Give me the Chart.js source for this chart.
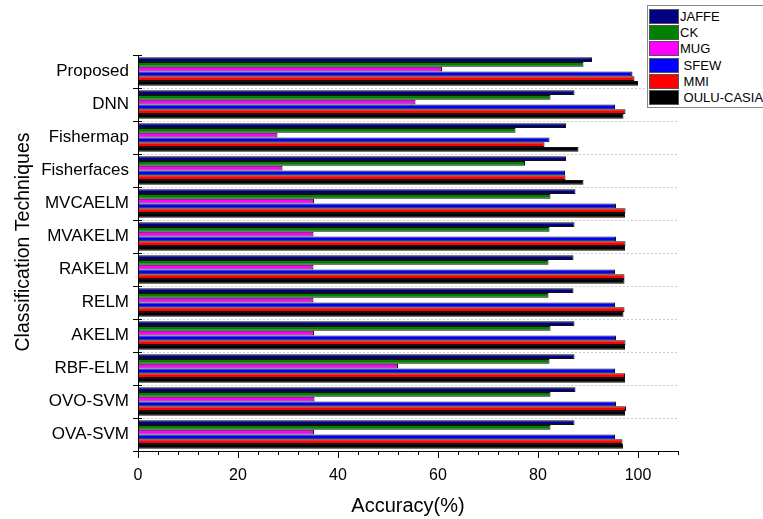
<!DOCTYPE html>
<html>
<head>
<meta charset="utf-8">
<script src="https://cdn.jsdelivr.net/npm/chart.js@4"></script>
<style>
  html, body { margin: 0; padding: 0; background: #fff; overflow: hidden; }
  #wrap { position: relative; width: 763px; height: 519px; overflow: hidden; }
  #legend {
    position: absolute; left: 647px; top: 5px; width: 130px; height: 103px;
    background: #fff; border: 1px solid #888; box-sizing: border-box;
    padding: 2px 0 0 1px; font: 13px Arial, "Liberation Sans", sans-serif; color: #000;
  }
  .row { display: flex; align-items: center; height: 16.3px; }
  .sw { width: 30px; height: 15px; box-sizing: border-box; border: 1px solid #555; margin-right: 1px; }
</style>
</head>
<body>
<div id="wrap">
  <canvas id="chart" width="763" height="519"></canvas>
  <div id="legend"></div>
</div>
<script>
// ---- data ----
const categories = ['Proposed', 'DNN', 'Fishermap', 'Fisherfaces', 'MVCAELM', 'MVAKELM',
  'RAKELM', 'RELM', 'AKELM', 'RBF-ELM', 'OVO-SVM', 'OVA-SVM'];
const seriesNames = ['JAFFE', 'CK', 'MUG', 'SFEW', 'MMI', 'OULU-CASIA'];
const jaffe = [90.8, 87.3, 85.6, 85.6, 87.5, 87.3, 87.1, 87.1, 87.3, 87.3, 87.5, 87.3];
const ck    = [89.1, 82.5, 75.5, 77.4, 82.5, 82.3, 82.1, 82.1, 82.5, 82.3, 82.5, 82.5];
const mug   = [60.8, 55.5, 27.9, 28.9, 35.2, 35.1, 35.1, 35.1, 35.2, 52.0, 35.3, 35.2];
const sfew  = [98.9, 95.4, 82.3, 85.4, 95.6, 95.6, 95.4, 95.4, 95.6, 95.4, 95.6, 95.4];
const mmi   = [99.3, 97.5, 81.3, 85.5, 97.5, 97.5, 97.3, 97.3, 97.5, 97.4, 97.6, 96.9];
const oulu  = [100.0, 97.1, 88.1, 89.1, 97.4, 97.4, 97.3, 97.1, 97.4, 97.4, 97.4, 97.0];
const xTickLabels = [0, 20, 40, 60, 80, 100];

const colors = ['#000080', '#008000', '#ff00ff', '#0000ff', '#ff0000', '#000000'];
const seriesData = [jaffe, ck, mug, sfew, mmi, oulu];
const FONT = 'Arial, "Liberation Sans", sans-serif';

// ---- legend (html box, top right) ----
const legend = document.getElementById('legend');
seriesNames.forEach((name, i) => {
  const row = document.createElement('div');
  row.className = 'row';
  const sw = document.createElement('div');
  sw.className = 'sw';
  sw.style.background = colors[i];
  const label = document.createElement('span');
  label.textContent = i >= 3 ? '\u00a0' + name : name;
  row.appendChild(sw);
  row.appendChild(label);
  legend.appendChild(row);
});

// ---- extras: minor ticks, inner y ticks, axis titles ----
const extras = {
  id: 'extras',
  afterDraw(chart) {
    const ctx = chart.ctx;
    const x = chart.scales.x;
    const y = chart.scales.y;
    const area = chart.chartArea;
    ctx.save();
    ctx.strokeStyle = '#000';
    ctx.lineWidth = 1;
    // minor x ticks
    for (let v = 4; v <= 108; v += 4) {
      if (v % 20 === 0) continue;
      const px = Math.round(x.getPixelForValue(v)) + 0.5;
      ctx.beginPath();
      ctx.moveTo(px, area.bottom);
      ctx.lineTo(px, area.bottom + 4);
      ctx.stroke();
    }
    // y ticks crossing into plot
    for (let i = 0; i <= categories.length; i++) {
      const py = Math.round(y.getPixelForValue(i - 0.5)) + 0.5;
      ctx.beginPath();
      ctx.moveTo(area.left, py);
      ctx.lineTo(area.left + 4, py);
      ctx.stroke();
    }
    // axis titles
    ctx.fillStyle = '#000';
    ctx.textAlign = 'center';
    ctx.textBaseline = 'middle';
    ctx.font = '20px ' + FONT;
    ctx.fillText('Accuracy(%)', (area.left + area.right) / 2, 506);
    ctx.translate(24, 242);
    ctx.rotate(-Math.PI / 2);
    ctx.font = '19.5px ' + FONT;
    ctx.fillText('Classification Techniques', 0, 0);
    ctx.restore();
  }
};

new Chart(document.getElementById('chart'), {
  type: 'bar',
  data: {
    labels: categories,
    datasets: seriesNames.map((name, i) => ({
      label: name,
      data: seriesData[i],
      backgroundColor: colors[i],
      borderColor: '#111',
      borderWidth: 1,
      borderSkipped: 'start',
      categoryPercentage: 0.86,
      barPercentage: 1.0
    }))
  },
  options: {
    indexAxis: 'y',
    responsive: false,
    animation: false,
    layout: { padding: { top: 55, right: 85, left: 0, bottom: 0 } },
    plugins: { legend: { display: false }, tooltip: { enabled: false } },
    scales: {
      x: {
        min: 0,
        max: 108,
        afterFit: (scale) => { scale.height = 68; },
        border: { color: '#000', width: 1 },
        grid: {
          drawOnChartArea: false,
          tickLength: 7,
          tickColor: (c) => (c.tick && c.tick.value % 20 === 0) ? '#000' : 'rgba(0,0,0,0)'
        },
        ticks: {
          stepSize: 4,
          autoSkip: false,
          maxRotation: 0,
          padding: 8,
          color: '#000',
          font: { family: FONT, size: 16 },
          callback: (v) => xTickLabels.includes(v) ? String(v) : ''
        }
      },
      y: {
        afterFit: (scale) => { scale.width = 138; },
        border: { color: '#000', width: 1, dash: [2, 2] },
        grid: {
          offset: true,
          color: (c) => c.index === 0 ? 'rgba(0,0,0,0)' : '#cccccc',
          tickColor: '#000',
          tickLength: 5,
          tickBorderDash: []
        },
        ticks: {
          padding: 4,
          color: '#000',
          font: { family: FONT, size: 17 }
        }
      }
    }
  },
  plugins: [extras]
});
</script>
</body>
</html>
